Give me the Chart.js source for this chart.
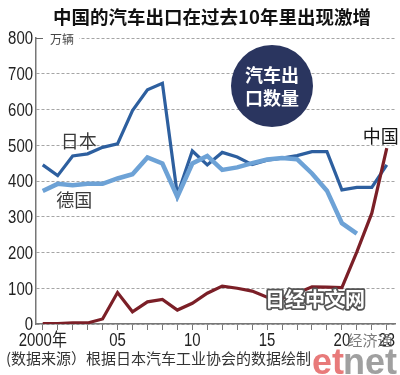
<!DOCTYPE html>
<html>
<head>
<meta charset="utf-8">
<script src="https://cdn.jsdelivr.net/npm/chart.js@4/dist/chart.umd.min.js"></script>
<style>
  html, body { margin: 0; padding: 0; background: #fff; }
  #wrap { width: 400px; height: 375px; position: relative; }
</style>
</head>
<body>
<div id="wrap"><canvas id="c" width="400" height="375"></canvas></div>
<script>
// ---- data (万辆) ----
const years = [2000,2001,2002,2003,2004,2005,2006,2007,2008,2009,2010,2011,2012,2013,2014,2015,2016,2017,2018,2019,2020,2021,2022,2023];
const japanExports   = [445,415,470,476,494,504,597,655,673,361,484,445,480,467,446,458,464,471,482,482,375,382,382,445];
const germanyExports = [372,392,388,392,392,407,419,466,449,356,449,470,431,438,450,460,464,461,421,373,282,253];
const chinaExports   = [1,1,3,3,14,88,34,62,69,39,58,86,106,100,92,75,72,86,104,103,102,202,310,492];
const xTickLabels = {2000:'2000年',2005:'05',2010:'10',2015:'15',2020:'20',2023:'23'};
const yTicks = [0,100,200,300,400,500,600,700,800];

const titleText = '中国的汽车出口在过去10年里出现激增';
const unitText = '万辆';
const sourceText = '(数据来源）根据日本汽车工业协会的数据绘制';

const NUM_FONT = "'Liberation Sans','Noto Sans CJK SC',sans-serif";
const CJK_FONT = "'Noto Sans CJK SC','Noto Sans',sans-serif";
const NARROW = 0.83;

function pts(vals){ return vals.map((v,i)=>({x:years[i], y:v})); }

function narrowText(ctx, text, x, y){
  ctx.save();
  ctx.translate(x, y);
  ctx.scale(NARROW, 1);
  ctx.fillText(text, 0, 0);
  ctx.restore();
}

const overlay = {
  id: 'overlay',
  afterDraw(chart){
    const ctx = chart.ctx;
    const xs = chart.scales.x, ys = chart.scales.y;
    const ca = chart.chartArea;
    ctx.save();
    // title
    ctx.fillStyle = '#111';
    ctx.font = "bold 18.5px " + CJK_FONT;
    ctx.textAlign = 'center'; ctx.textBaseline = 'middle';
    ctx.fillText(titleText, 212, 17);

    // x-axis labels (condensed)
    ctx.fillStyle = '#222';
    ctx.font = "18px " + NUM_FONT;
    Object.keys(xTickLabels).forEach(k => {
      narrowText(ctx, xTickLabels[k], xs.getPixelForValue(+k), 341);
    });
    // y-axis labels (condensed)
    ctx.textAlign = 'right';
    yTicks.forEach(v => {
      narrowText(ctx, String(v), ca.left - 3, ys.getPixelForValue(v) + 1.5);
    });

    // unit label at top gridline
    const y800 = ys.getPixelForValue(800);
    ctx.fillStyle = '#fff';
    ctx.fillRect(ca.left + 5, y800 - 3, 38, 6);
    ctx.strokeStyle = '#666'; ctx.lineWidth = 1;
    ctx.beginPath(); ctx.moveTo(ca.left, y800 + 0.5); ctx.lineTo(ca.left + 7, y800 + 0.5); ctx.stroke();
    ctx.fillStyle = '#444';
    ctx.font = "12px " + CJK_FONT;
    ctx.textAlign = 'left';
    ctx.fillText(unitText, ca.left + 14, y800 + 1);

    // series labels
    ctx.font = "18px " + CJK_FONT;
    ctx.textAlign = 'center';
    ctx.fillStyle = '#3a3a3a';
    ctx.fillText('日本', xs.getPixelForValue(2002.4), ys.getPixelForValue(511));
    ctx.fillText('德国', xs.getPixelForValue(2002.1), ys.getPixelForValue(347));
    ctx.fillStyle = '#151515';
    ctx.fillText('中国', xs.getPixelForValue(2022.6), ys.getPixelForValue(525));

    // circle badge
    ctx.fillStyle = '#2a355f';
    ctx.beginPath(); ctx.arc(272, 86, 41, 0, Math.PI*2); ctx.fill();
    ctx.fillStyle = '#fff';
    ctx.font = "bold 18px " + CJK_FONT;
    ctx.fillText('汽车出', 272, 75);
    ctx.fillText('口数量', 272, 98);

    // source
    ctx.fillStyle = '#333';
    ctx.font = "15px " + CJK_FONT;
    ctx.textAlign = 'left';
    ctx.fillText(sourceText, 6, 358);

    // watermarks
    ctx.font = "bold 20px " + CJK_FONT;
    ctx.textAlign = 'center';
    ctx.lineJoin = 'round';
    ctx.strokeStyle = '#555'; ctx.lineWidth = 3.5;
    ctx.strokeText('日经中文网', 315, 299);
    ctx.fillStyle = '#fff';
    ctx.fillText('日经中文网', 315, 299);

    ctx.fillStyle = 'rgba(110,110,110,0.9)';
    ctx.font = "15px " + CJK_FONT;
    ctx.fillText('经济通', 370, 340);

    ctx.font = "bold 36px 'Liberation Sans',Arial,sans-serif";
    ctx.textAlign = 'left'; ctx.textBaseline = 'alphabetic';
    ctx.fillStyle = '#e87a7a';
    ctx.fillText('et', 312, 374);
    const w = ctx.measureText('et').width;
    ctx.fillStyle = '#a0a0a0';
    ctx.fillText('net', 312 + w - 1, 374);
    ctx.restore();
  }
};

new Chart(document.getElementById('c'), {
  type: 'line',
  data: {
    datasets: [
      { label: '中国', data: pts(chinaExports), borderColor: '#7b1f27', borderWidth: 3.2, order: 0 },
      { label: '日本', data: pts(japanExports), borderColor: '#2d5f9f', borderWidth: 3.2, order: 2 },
      { label: '德国', data: pts(germanyExports), borderColor: '#6da2d6', borderWidth: 4.5, order: 1 }
    ]
  },
  options: {
    responsive: false,
    animation: false,
    events: [],
    layout: { padding: { top: 38, right: 5, bottom: 23, left: 0 } },
    elements: { point: { radius: 0 }, line: { tension: 0, borderJoinStyle: 'miter', borderCapStyle: 'butt' } },
    plugins: { legend: { display: false }, tooltip: { enabled: false }, title: { display: false } },
    scales: {
      x: {
        type: 'linear', min: 1999.55, max: 2023.55,
        afterBuildTicks(s){ s.ticks = years.map(v => ({ value: v })); },
        afterFit(s){ s.height = 28; },
        ticks: { autoSkip: false, maxRotation: 0, padding: 2, callback: () => '' },
        grid: { drawOnChartArea: false, drawTicks: true, tickLength: 6, color: '#777', lineWidth: 1 },
        border: { display: true, color: '#777', width: 1.5 }
      },
      y: {
        min: 0, max: 800,
        afterBuildTicks(s){ s.ticks = yTicks.map(v => ({ value: v })); },
        afterFit(s){ s.width = 36; },
        ticks: { callback: () => '' },
        grid: { color: '#a5a5a5', lineWidth: 1, drawTicks: false },
        border: { display: true, color: '#777', width: 1.5, dash: [3, 2] }
      }
    }
  },
  plugins: [overlay]
});
</script>
</body>
</html>
